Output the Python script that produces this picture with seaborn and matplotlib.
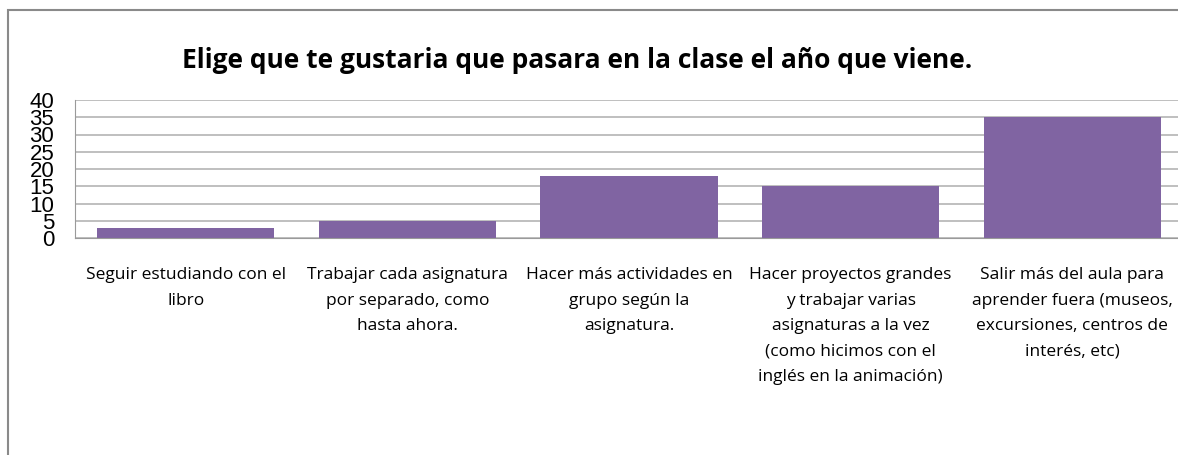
import numpy as np
import pandas as pd
import matplotlib
matplotlib.use("Agg")
import matplotlib.pyplot as plt
import seaborn as sns
from matplotlib.patches import Rectangle

sns.set_style("white")
plt.rcParams["font.family"] = ["Open Sans", "DejaVu Sans"]
plt.rcParams["text.color"] = "black"
plt.rcParams["xtick.color"] = "black"
plt.rcParams["ytick.color"] = "black"

# ====================================
# Data
# ====================================

categories = [
    "Seguir estudiando con el\nlibro",
    "Trabajar cada asignatura\npor separado, como\nhasta ahora.",
    "Hacer más actividades en\ngrupo según la\nasignatura.",
    "Hacer proyectos grandes\ny trabajar varias\nasignaturas a la vez\n(como hicimos con el\ninglés en la animación)",
    "Salir más del aula para\naprender fuera (museos,\nexcursiones, centros de\ninterés, etc)",
]
votes = [3, 5, 18, 15, 35]
y_ticks = [0, 5, 10, 15, 20, 25, 30, 35, 40]

title = "Elige que te gustaria que pasara en la clase el año que viene."

df = pd.DataFrame({"opcion": categories, "votos": votes})

fig = plt.figure(figsize=(11.78, 4.55), dpi=100)

# outer chart frame
fig.patches.append(
    Rectangle((8 / 1178, -0.1), 1.2, 1 - 10 / 455 + 0.1,
              transform=fig.transFigure, fill=False,
              edgecolor="#8a8a8a", linewidth=1.5)
)

ax = fig.add_axes([75 / 1178, 1 - 238 / 455, 1108 / 1178, 138 / 455])

sns.barplot(
    data=df,
    x="opcion",
    y="votos",
    color="#8064A2",
    width=0.8,
    saturation=1,
    linewidth=0,
    ax=ax
)

ax.set_ylim(0, 40)
ax.set_xlim(-0.5, len(categories) - 0.5)
ax.set_yticks(y_ticks)
ax.set_yticklabels([str(v) for v in y_ticks], fontsize=16, family="Liberation Sans")
ax.yaxis.grid(True, color="#b4b4b4", linewidth=1.2)
ax.set_axisbelow(True)

ax.set_xticks(range(len(categories)))
ax.set_xticklabels(categories, fontsize=12.5, linespacing=1.78, va="top")
ax.tick_params(axis="x", length=0, pad=21)
ax.tick_params(axis="y", length=0, pad=15)
ax.set_xticks(np.arange(-0.5, len(categories), 1), minor=True)
ax.tick_params(axis="x", which="minor", length=7, color="#9a9a9a", width=1)

for side in ["top", "right"]:
    ax.spines[side].set_visible(False)
for side in ["left", "bottom"]:
    ax.spines[side].set_color("#9a9a9a")

ax.set_xlabel("")
ax.set_ylabel("")

fig.text(0.49, 1 - 60 / 455, title, ha="center", va="center",
         fontsize=19, fontweight="bold")

plt.savefig("out.png", dpi=100)
plt.close()
